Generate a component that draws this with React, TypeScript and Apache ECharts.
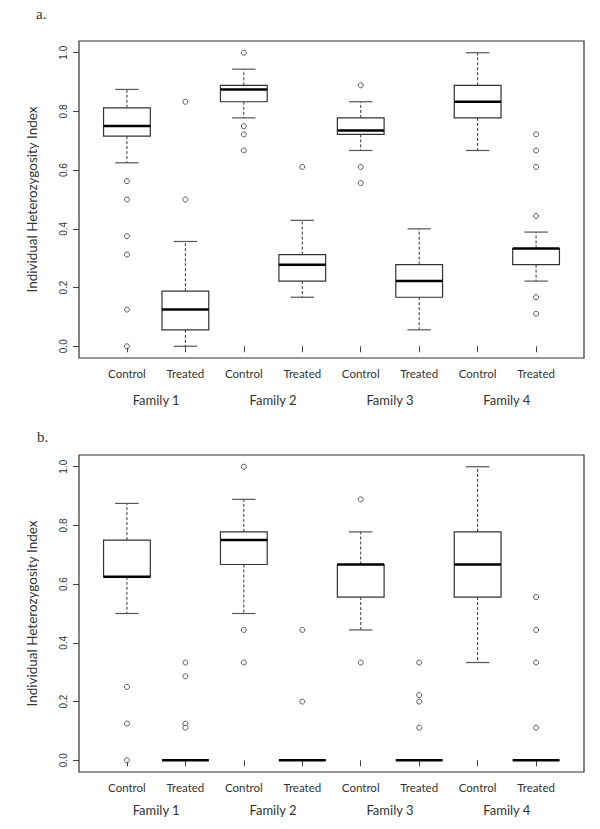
import React, { useEffect, useRef } from "react";
import * as echarts from "echarts";

// positions: 1..8 = F1 Control, F1 Treated, F2 Control, F2 Treated, ...
const groupLabels = ["Control", "Treated", "Control", "Treated", "Control", "Treated", "Control", "Treated"];
const familyLabels = ["Family 1", "Family 2", "Family 3", "Family 4"];
const yTicks = [0, 0.2, 0.4, 0.6, 0.8, 1.0];

// [position, lowerWhisker, Q1, median, Q3, upperWhisker]
const boxesA = [
  [1, 0.625, 0.716, 0.75, 0.8125, 0.875],
  [2, 0.0, 0.056, 0.125, 0.1875, 0.357],
  [3, 0.778, 0.833, 0.875, 0.889, 0.944],
  [4, 0.167, 0.222, 0.278, 0.3125, 0.429],
  [5, 0.667, 0.722, 0.735, 0.778, 0.833],
  [6, 0.056, 0.167, 0.222, 0.278, 0.4],
  [7, 0.667, 0.778, 0.833, 0.889, 1.0],
  [8, 0.222, 0.278, 0.333, 0.333, 0.389],
];
const outliersA = [
  [1, 0.5625], [1, 0.5], [1, 0.375], [1, 0.3125], [1, 0.125], [1, 0.0],
  [2, 0.833], [2, 0.5],
  [3, 1.0], [3, 0.75], [3, 0.722], [3, 0.667],
  [4, 0.611],
  [5, 0.889], [5, 0.611], [5, 0.556],
  [8, 0.722], [8, 0.667], [8, 0.611], [8, 0.444], [8, 0.167], [8, 0.111],
];

const boxesB = [
  [1, 0.5, 0.625, 0.625, 0.75, 0.875],
  [2, 0, 0, 0, 0, 0],
  [3, 0.5, 0.667, 0.75, 0.778, 0.889],
  [4, 0, 0, 0, 0, 0],
  [5, 0.444, 0.556, 0.667, 0.667, 0.778],
  [6, 0, 0, 0, 0, 0],
  [7, 0.333, 0.556, 0.667, 0.778, 1.0],
  [8, 0, 0, 0, 0, 0],
];
const outliersB = [
  [1, 0.25], [1, 0.125], [1, 0.0],
  [2, 0.333], [2, 0.286], [2, 0.125], [2, 0.111],
  [3, 1.0], [3, 0.444], [3, 0.333],
  [4, 0.444], [4, 0.2],
  [5, 0.889], [5, 0.333],
  [6, 0.333], [6, 0.222], [6, 0.2], [6, 0.111],
  [8, 0.556], [8, 0.444], [8, 0.333], [8, 0.111],
];

const X_MIN = 0.18;
const X_MAX = 8.82;
const BOX_W = 0.8;

function renderBox(params: any, api: any) {
  const x = api.value(0);
  const lo = api.coord([x, api.value(1)]);
  const q1 = api.coord([x, api.value(2)]);
  const md = api.coord([x, api.value(3)]);
  const q3 = api.coord([x, api.value(4)]);
  const hi = api.coord([x, api.value(5)]);
  const w = api.size([BOX_W, 0])[0];
  const cx = lo[0];
  const stroke = "#333";
  return {
    type: "group",
    children: [
      { type: "line", shape: { x1: cx, y1: q3[1], x2: cx, y2: hi[1] }, style: { stroke, lineWidth: 1, lineDash: [3, 2] } },
      { type: "line", shape: { x1: cx, y1: q1[1], x2: cx, y2: lo[1] }, style: { stroke, lineWidth: 1, lineDash: [3, 2] } },
      { type: "line", shape: { x1: cx - w / 4, y1: hi[1], x2: cx + w / 4, y2: hi[1] }, style: { stroke: "#555", lineWidth: 1.2 } },
      { type: "line", shape: { x1: cx - w / 4, y1: lo[1], x2: cx + w / 4, y2: lo[1] }, style: { stroke: "#555", lineWidth: 1.2 } },
      { type: "rect", shape: { x: cx - w / 2, y: q3[1], width: w, height: q1[1] - q3[1] }, style: { fill: "#fff", stroke, lineWidth: 1.2 } },
      { type: "line", shape: { x1: cx - w / 2, y1: md[1], x2: cx + w / 2, y2: md[1] }, style: { stroke: "#000", lineWidth: 2.5 } },
    ],
  };
}

const catFont = { fontFamily: "Lato", fontSize: 11.5, color: "#333" };

function xAxesFor(gridIndex: number, famMargin: number) {
  return [
    {
      type: "value", gridIndex, min: X_MIN, max: X_MAX, position: "bottom",
      axisLine: { show: false },
      axisTick: { show: true, length: 6, customValues: [1, 2, 3, 4, 5, 6, 7, 8], lineStyle: { color: "#444" } },
      axisLabel: { show: true, margin: 9, customValues: [1, 2, 3, 4, 5, 6, 7, 8], formatter: (v: number) => groupLabels[Math.round(v) - 1] || "", ...catFont },
      splitLine: { show: false },
    },
    {
      type: "value", gridIndex, min: X_MIN, max: X_MAX, position: "bottom",
      axisLine: { show: false },
      axisTick: { show: false },
      axisLabel: { show: true, margin: famMargin, customValues: [1.5, 3.5, 5.5, 7.5], formatter: (v: number) => familyLabels[Math.round(v - 1.5) / 2] || "", fontFamily: "Lato", fontSize: 13, color: "#333" },
      splitLine: { show: false },
    },
  ];
}

function yAxisFor(gridIndex: number) {
  return {
    type: "value", gridIndex, min: -0.04, max: 1.04,
    name: "Individual Heterozygosity Index", nameLocation: "middle", nameGap: 40, nameRotate: 90,
    nameTextStyle: { fontFamily: "Lato", fontSize: 13.5, color: "#333" },
    axisLine: { show: false },
    axisTick: { show: true, length: 6, customValues: yTicks, lineStyle: { color: "#444" } },
    axisLabel: { show: true, rotate: 90, margin: 11, customValues: yTicks, formatter: (v: number) => v.toFixed(1), fontFamily: "Liberation Sans", fontSize: 10, color: "#333" },
    splitLine: { show: false },
  };
}

export default function App() {
  const ref = useRef<HTMLDivElement>(null);
  useEffect(() => {
    if (!ref.current) return;
    const chart = echarts.init(ref.current, null, { renderer: "svg" });
    const outlierStyle = { color: "#fff", borderColor: "#333", borderWidth: 1 };
    chart.setOption({
      animation: false,
      backgroundColor: "#fff",
      grid: [
        { left: 79, top: 41, width: 505, height: 317, show: true, borderColor: "#333", borderWidth: 1.2, backgroundColor: "transparent" },
        { left: 79, top: 455, width: 505, height: 317, show: true, borderColor: "#333", borderWidth: 1.2, backgroundColor: "transparent" },
      ],
      xAxis: [...xAxesFor(0, 35), ...xAxesFor(1, 31)],
      yAxis: [yAxisFor(0), yAxisFor(1)],
      graphic: [
        { type: "text", left: 36, top: 6, style: { text: "a.", font: "15px 'Liberation Serif'", fill: "#333" } },
        { type: "text", left: 37, top: 429, style: { text: "b.", font: "15px 'Liberation Serif'", fill: "#333" } },
      ],
      series: [
        { type: "custom", xAxisIndex: 0, yAxisIndex: 0, renderItem: renderBox, data: boxesA, encode: { x: 0, y: [1, 2, 3, 4, 5] }, silent: true },
        { type: "scatter", xAxisIndex: 0, yAxisIndex: 0, data: outliersA, symbol: "circle", symbolSize: 5, itemStyle: outlierStyle, silent: true },
        { type: "custom", xAxisIndex: 2, yAxisIndex: 1, renderItem: renderBox, data: boxesB, encode: { x: 0, y: [1, 2, 3, 4, 5] }, silent: true },
        { type: "scatter", xAxisIndex: 2, yAxisIndex: 1, data: outliersB, symbol: "circle", symbolSize: 5, itemStyle: outlierStyle, silent: true },
      ],
    });
    return () => chart.dispose();
  }, []);
  return <div ref={ref} style={{ position: "absolute", left: 0, top: 0, width: 600, height: 829 }} />;
}
